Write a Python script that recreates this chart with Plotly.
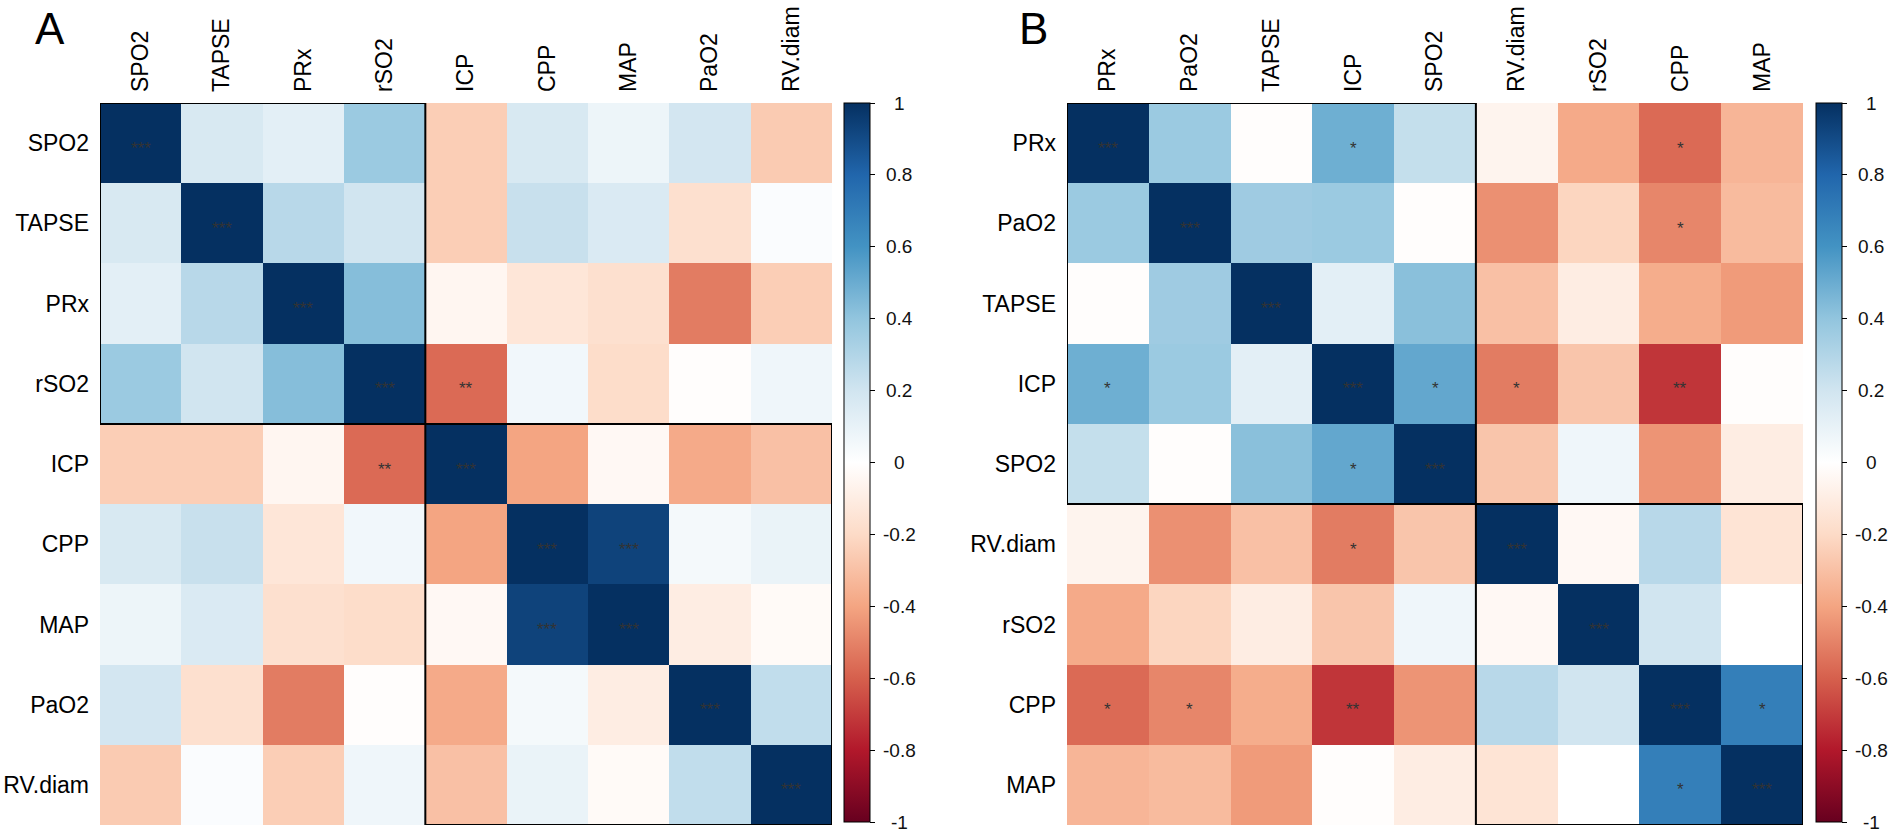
import plotly.graph_objects as go

# ---------------- data ----------------
vars_A = ["SPO2", "TAPSE", "PRx", "rSO2", "ICP", "CPP", "MAP", "PaO2", "RV.diam"]
corr_A = [
    [1.00, 0.17, 0.12, 0.37, -0.25, 0.17, 0.08, 0.19, -0.26],
    [0.17, 1.00, 0.28, 0.20, -0.25, 0.23, 0.16, -0.17, 0.02],
    [0.12, 0.28, 1.00, 0.43, -0.05, -0.14, -0.17, -0.52, -0.25],
    [0.37, 0.20, 0.43, 1.00, -0.57, 0.06, -0.19, -0.01, 0.07],
    [-0.25, -0.25, -0.05, -0.57, 1.00, -0.40, -0.04, -0.38, -0.30],
    [0.17, 0.23, -0.14, 0.06, -0.40, 1.00, 0.93, 0.05, 0.09],
    [0.08, 0.16, -0.17, -0.19, -0.04, 0.93, 1.00, -0.10, -0.03],
    [0.19, -0.17, -0.52, -0.01, -0.38, 0.05, -0.10, 1.00, 0.25],
    [-0.26, 0.02, -0.25, 0.07, -0.30, 0.09, -0.03, 0.25, 1.00],
]
stars_A = [
    ["***", "", "", "", "", "", "", "", ""],
    ["", "***", "", "", "", "", "", "", ""],
    ["", "", "***", "", "", "", "", "", ""],
    ["", "", "", "***", "**", "", "", "", ""],
    ["", "", "", "**", "***", "", "", "", ""],
    ["", "", "", "", "", "***", "***", "", ""],
    ["", "", "", "", "", "***", "***", "", ""],
    ["", "", "", "", "", "", "", "***", ""],
    ["", "", "", "", "", "", "", "", "***"],
]
clusters_A = [4, 5]

vars_B = ["PRx", "PaO2", "TAPSE", "ICP", "SPO2", "RV.diam", "rSO2", "CPP", "MAP"]
corr_B = [
    [1.00, 0.37, -0.01, 0.49, 0.24, -0.06, -0.38, -0.57, -0.34],
    [0.37, 1.00, 0.36, 0.37, -0.01, -0.46, -0.22, -0.49, -0.32],
    [-0.01, 0.36, 1.00, 0.12, 0.42, -0.30, -0.10, -0.37, -0.43],
    [0.49, 0.37, 0.12, 1.00, 0.52, -0.52, -0.28, -0.72, -0.01],
    [0.24, -0.01, 0.42, 0.52, 1.00, -0.28, 0.07, -0.45, -0.10],
    [-0.06, -0.46, -0.30, -0.52, -0.28, 1.00, -0.04, 0.28, -0.15],
    [-0.38, -0.22, -0.10, -0.28, 0.07, -0.04, 1.00, 0.20, 0.00],
    [-0.57, -0.49, -0.37, -0.72, -0.45, 0.28, 0.20, 1.00, 0.69],
    [-0.34, -0.32, -0.43, -0.01, -0.10, -0.15, 0.00, 0.69, 1.00],
]
stars_B = [
    ["***", "", "", "*", "", "", "", "*", ""],
    ["", "***", "", "", "", "", "", "*", ""],
    ["", "", "***", "", "", "", "", "", ""],
    ["*", "", "", "***", "*", "*", "", "**", ""],
    ["", "", "", "*", "***", "", "", "", ""],
    ["", "", "", "*", "", "***", "", "", ""],
    ["", "", "", "", "", "", "***", "", ""],
    ["*", "*", "", "**", "", "", "", "***", "*"],
    ["", "", "", "", "", "", "", "*", "***"],
]
clusters_B = [5, 4]

cbar_ticks = [1, 0.8, 0.6, 0.4, 0.2, 0, -0.2, -0.4, -0.6, -0.8, -1]
cbar_ticktext = ["1", "0.8", "0.6", "0.4", "0.2", "0", "-0.2", "-0.4", "-0.6", "-0.8", "-1"]
panel_labels = ["A", "B"]

# ---------------- style ----------------
W, H = 1888, 834
FONT = "Arial, 'Liberation Sans', Helvetica, sans-serif"
rdbu = ["#67001F", "#B2182B", "#D6604D", "#F4A582", "#FDDBC7", "#FFFFFF",
        "#D1E5F0", "#92C5DE", "#4393C3", "#2166AC", "#053061"]
colorscale = [[i / (len(rdbu) - 1), c] for i, c in enumerate(rdbu)]

top_px, bot_px = 103, 825
cb_top, cb_len = 103, 719
cb_thick = 26
panels = [
    dict(vars=vars_A, corr=corr_A, stars=stars_A, clusters=clusters_A,
         x0=100, x1=832, cb_x=844, label_x=50),
    dict(vars=vars_B, corr=corr_B, stars=stars_B, clusters=clusters_B,
         x0=1067, x1=1803, cb_x=1816, label_x=1033),
]

fig = go.Figure()
annotations = []
shapes = []
y_dom = [1 - bot_px / H, 1 - top_px / H]
cb_center = 1 - (cb_top + cb_len / 2) / H

for k, p in enumerate(panels):
    sfx = "" if k == 0 else str(k + 1)
    xa, ya = "x" + sfx, "y" + sfx
    fig.add_trace(go.Heatmap(
        z=p["corr"], x=p["vars"], y=p["vars"],
        xaxis=xa, yaxis=ya,
        zmin=-1, zmax=1, colorscale=colorscale,
        colorbar=dict(
            x=p["cb_x"] / W, xanchor="left", xpad=0, ypad=0,
            y=cb_center, yanchor="middle",
            lenmode="pixels", len=cb_len, thicknessmode="pixels", thickness=cb_thick,
            outlinecolor="black", outlinewidth=1,
            tickmode="array", tickvals=cbar_ticks, ticktext=cbar_ticktext,
            ticks="outside", ticklen=5, tickcolor="black", tickwidth=1,
            showticklabels=False,
        ),
    ))
    axis_common = dict(showgrid=False, zeroline=False, showline=False, ticks="",
                       tickfont=dict(family=FONT, size=23, color="black"),
                       ticklabelstandoff=10)
    fig.layout["xaxis" + sfx] = dict(domain=[p["x0"] / W, p["x1"] / W], side="top",
                                     tickangle=-90, anchor=ya, type="category",
                                     range=[-0.5, len(p["vars"]) - 0.5], **axis_common)
    fig.layout["yaxis" + sfx] = dict(domain=y_dom, anchor=xa, type="category",
                                     range=[len(p["vars"]) - 0.5, -0.5], **axis_common)

    # significance stars
    for i, row in enumerate(p["stars"]):
        for j, s in enumerate(row):
            if s:
                annotations.append(dict(
                    x=p["vars"][j], y=p["vars"][i], xref=xa, yref=ya,
                    text=s, showarrow=False, yshift=-5,
                    font=dict(family=FONT, size=17, color="#333333")))

    # cluster rectangles
    start = 0
    for size in p["clusters"]:
        shapes.append(dict(type="rect", xref=xa, yref=ya,
                           x0=start - 0.5, x1=start + size - 0.5,
                           y0=start - 0.5, y1=start + size - 0.5,
                           line=dict(color="black", width=2), fillcolor="rgba(0,0,0,0)"))
        start += size

    # colorbar tick labels, centred like the reference
    for v, t in zip(cbar_ticks, cbar_ticktext):
        ypx = cb_top + (1 - v) / 2 * cb_len
        annotations.append(dict(x=(p["cb_x"] + cb_thick + 29) / W, y=1 - ypx / H,
                                xref="paper", yref="paper", text=t, showarrow=False,
                                xanchor="center", yanchor="middle",
                                font=dict(family=FONT, size=19, color="#111111")))

    annotations.append(dict(x=p["label_x"] / W, y=1 - 28 / H, xref="paper", yref="paper",
                            text=panel_labels[k], showarrow=False,
                            xanchor="center", yanchor="middle",
                            font=dict(family=FONT, size=44, color="black")))

fig.update_layout(
    width=W, height=H,
    margin=dict(l=0, r=0, t=0, b=0),
    paper_bgcolor="white", plot_bgcolor="white",
    annotations=annotations, shapes=shapes,
    showlegend=False,
)

fig.write_html("out.html", config={"displayModeBar": False},
               post_script="document.body.style.margin='0px';")
